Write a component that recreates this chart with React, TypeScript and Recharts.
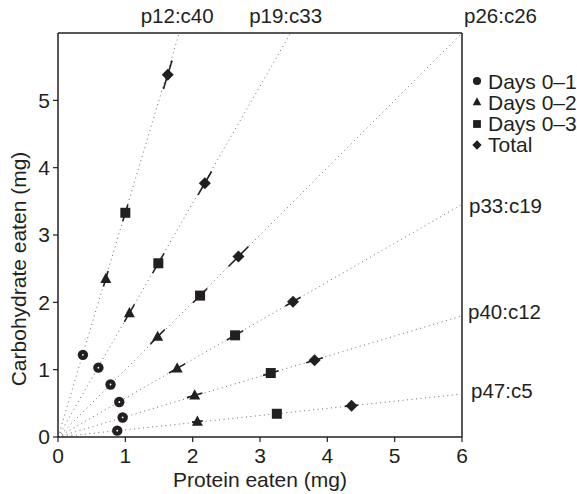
import React from "react";
import { ScatterChart, Scatter, XAxis, YAxis, ReferenceLine, Legend } from "recharts";

const FONT = '"Liberation Sans", Arial, Helvetica, sans-serif';
const INK = "#231f20";

// protein:carbohydrate ratio of each diet rail
const dietRatios = [
  [12, 40],
  [19, 33],
  [26, 26],
  [33, 19],
  [40, 12],
  [47, 5],
];
const dietLabels = ["p12:c40", "p19:c33", "p26:c26", "p33:c19", "p40:c12", "p47:c5"];

const xTicks = [0, 1, 2, 3, 4, 5, 6];
const yTicks = [0, 1, 2, 3, 4, 5];

// amounts eaten (mg), one value per diet in dietRatios order
const day1Protein = [0.37, 0.6, 0.78, 0.91, 0.96, 0.88];
const day1Carb = [1.22, 1.03, 0.78, 0.52, 0.29, 0.094];
const day2Protein = [0.71, 1.06, 1.48, 1.77, 2.03, 2.07];
const day2Carb = [2.35, 1.84, 1.49, 1.02, 0.62, 0.23];
const day3Protein = [1.0, 1.49, 2.11, 2.63, 3.16, 3.25];
const day3Carb = [3.33, 2.58, 2.1, 1.51, 0.95, 0.345];
const totalProtein = [1.63, 2.18, 2.68, 3.49, 3.81, 4.36];
const totalCarb = [5.38, 3.77, 2.68, 2.01, 1.14, 0.465];

// standard error along the rail (mg)
const day1Err = [0, 0, 0, 0, 0, 0];
const day2Err = [0.12, 0.15, 0.15, 0.14, 0.12, 0.08];
const day3Err = [0.13, 0.17, 0.15, 0.14, 0.12, 0.06];
const totalErr = [0.22, 0.2, 0.21, 0.13, 0.13, 0.1];

const seriesNames = ["Days 0\u20131", "Days 0\u20132", "Days 0\u20133", "Total"];

type Kind = "circle" | "triangle" | "square" | "diamond";

const series = [
  { name: seriesNames[0], protein: day1Protein, carb: day1Carb, err: day1Err, kind: "circle" as Kind },
  { name: seriesNames[1], protein: day2Protein, carb: day2Carb, err: day2Err, kind: "triangle" as Kind },
  { name: seriesNames[2], protein: day3Protein, carb: day3Carb, err: day3Err, kind: "square" as Kind },
  { name: seriesNames[3], protein: totalProtein, carb: totalCarb, err: totalErr, kind: "diamond" as Kind },
];

// where each rail label sits relative to the rail end
const labelPlacement: Record<string, { dx: number; dy: number; anchor: string }> = {
  "p12:c40": { dx: -2, dy: -10.5, anchor: "middle" },
  "p19:c33": { dx: -5, dy: -10.5, anchor: "middle" },
  "p26:c26": { dx: 2, dy: -10.5, anchor: "start" },
  "p33:c19": { dx: 7, dy: 9, anchor: "start" },
  "p40:c12": { dx: 6, dy: 3, anchor: "start" },
  "p47:c5": { dx: 9, dy: 3.5, anchor: "start" },
};

const MAX = 6;

const railEnds = dietRatios.map(([p, c], i) => {
  const k = c / p;
  const end = k >= 1 ? { x: MAX / k, y: MAX } : { x: MAX, y: MAX * k };
  return { ...end, label: dietLabels[i] };
});

function Mark({ cx, cy, kind, s = 1 }: { cx: number; cy: number; kind: Kind; s?: number }) {
  if (kind === "circle") {
    return (
      <g>
        <circle cx={cx} cy={cy} r={5.2 * s} fill={INK} />
        {s === 1 && <circle cx={cx} cy={cy} r={0.9} fill="#fff" />}
      </g>
    );
  }
  if (kind === "triangle") {
    const h = 6 * s;
    const w = 5.5 * s;
    return <polygon points={`${cx},${cy - h} ${cx - w},${cy + h * 0.7} ${cx + w},${cy + h * 0.7}`} fill={INK} />;
  }
  if (kind === "square") {
    const h = 5 * s;
    return <rect x={cx - h} y={cy - h} width={2 * h} height={2 * h} fill={INK} />;
  }
  const d = 6 * s;
  return <polygon points={`${cx},${cy - d} ${cx + d},${cy} ${cx},${cy + d} ${cx - d},${cy}`} fill={INK} />;
}

function RailLabel(props: any) {
  const { cx, cy, payload } = props;
  const pl = labelPlacement[payload.label];
  return (
    <text
      x={cx + pl.dx}
      y={cy + pl.dy}
      textAnchor={pl.anchor as any}
      fill={INK}
      fontSize={20.5}
      fontFamily={FONT}
    >
      {payload.label}
    </text>
  );
}

function DietLegend() {
  return (
    <div style={{ fontFamily: FONT, fontSize: 21, color: INK, lineHeight: "21.3px" }}>
      {series.map((s) => (
        <div key={s.name} style={{ display: "flex", alignItems: "center", height: 21.3 }}>
          <svg width={14} height={14} style={{ flexShrink: 0 }}>
            <Mark cx={7} cy={7} kind={s.kind} s={0.78} />
          </svg>
          <span style={{ marginLeft: 4, whiteSpace: "nowrap" }}>{s.name}</span>
        </div>
      ))}
    </div>
  );
}

export default function App() {
  const tickStyle = { fill: INK, fontSize: 21, fontFamily: FONT };

  return (
    <div style={{ position: "absolute", left: 0, top: 0, background: "#fff" }}>
      <ScatterChart width={577} height={494} margin={{ top: 33, right: 115, bottom: 0, left: 0 }}>
        <XAxis
          type="number"
          dataKey="x"
          domain={[0, MAX]}
          ticks={xTicks}
          height={57}
          tickSize={5}
          tickMargin={6}
          tick={tickStyle}
          axisLine={{ stroke: INK, strokeWidth: 1.5 }}
          tickLine={{ stroke: INK, strokeWidth: 1.2 }}
          label={{ value: "Protein eaten (mg)", position: "insideBottom", offset: 7, fill: INK, fontSize: 21, fontFamily: FONT }}
        />
        <YAxis
          type="number"
          dataKey="y"
          domain={[0, MAX]}
          ticks={yTicks}
          width={58}
          tickSize={5}
          tickMargin={3}
          tick={tickStyle}
          axisLine={{ stroke: INK, strokeWidth: 1.5 }}
          tickLine={{ stroke: INK, strokeWidth: 1.2 }}
          label={{
            value: "Carbohydrate eaten (mg)",
            angle: -90,
            position: "insideLeft",
            offset: 19,
            dy: 34,
            fill: INK,
            fontSize: 21,
            fontFamily: FONT,
            style: { textAnchor: "middle" },
          }}
        />
        <ReferenceLine y={MAX} stroke={INK} strokeWidth={1.5} />
        <ReferenceLine x={MAX} stroke={INK} strokeWidth={1.5} />

        {railEnds.map((e) => (
          <ReferenceLine
            key={e.label}
            segment={[{ x: 0, y: 0 }, { x: e.x, y: e.y }]}
            stroke="#6d6d6d"
            strokeWidth={1}
            strokeDasharray="1 3.5"
          />
        ))}

        {series.map((s) =>
          s.protein.map((px, i) => {
            const cy = s.carb[i];
            const len = Math.hypot(px, cy);
            const e = s.err[i];
            if (!e) return null;
            const ux = px / len;
            const uy = cy / len;
            return (
              <ReferenceLine
                key={`${s.name}-${i}`}
                segment={[
                  { x: px - e * ux, y: cy - e * uy },
                  { x: px + e * ux, y: cy + e * uy },
                ]}
                stroke={INK}
                strokeWidth={1.6}
              />
            );
          })
        )}

        {series.map((s) => (
          <Scatter
            key={s.name}
            name={s.name}
            data={s.protein.map((px, i) => ({ x: px, y: s.carb[i] }))}
            isAnimationActive={false}
            shape={(p: any) => <Mark cx={p.cx} cy={p.cy} kind={s.kind} />}
          />
        ))}

        <Scatter
          name="rails"
          data={railEnds}
          isAnimationActive={false}
          legendType="none"
          shape={(p: any) => <RailLabel {...p} />}
        />

        <Legend
          layout="vertical"
          align="center"
          verticalAlign="middle"
          content={() => <DietLegend />}
          wrapperStyle={{ left: 470, top: 70.5, width: 107, height: 86 }}
        />
      </ScatterChart>
    </div>
  );
}
